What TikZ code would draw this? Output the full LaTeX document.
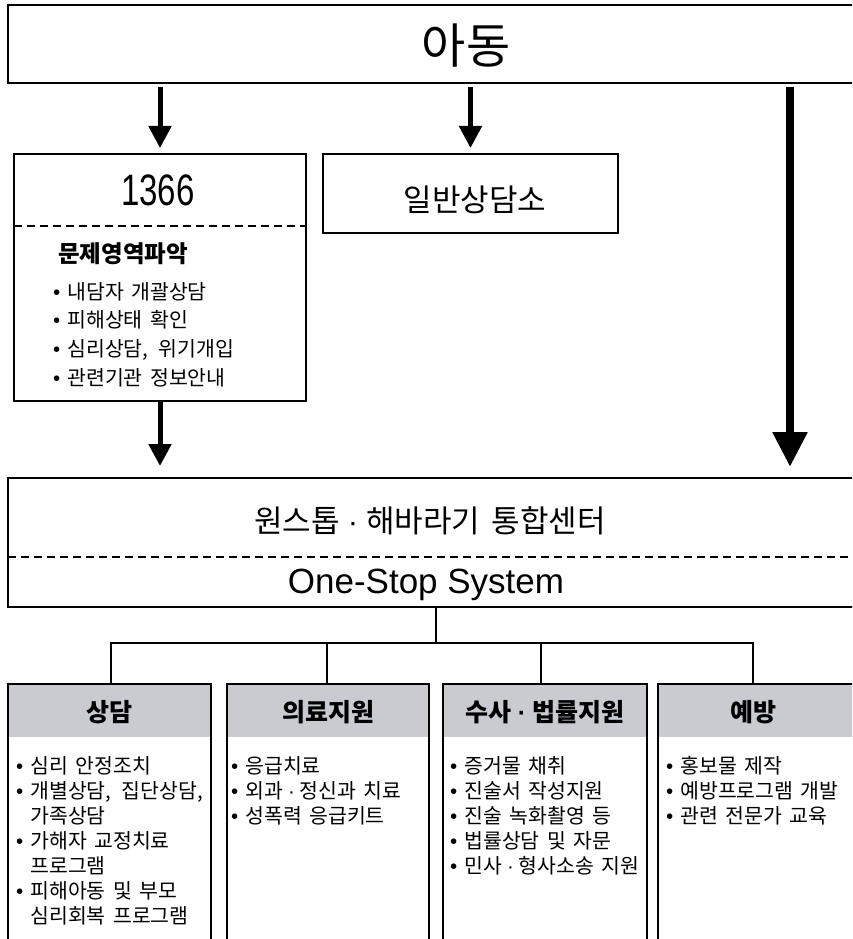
\documentclass[tikz,border=0pt]{standalone}
\usepackage{fontspec}
\setmainfont{Noto Sans CJK KR}[WordSpace=1.6]
\newfontfamily\lat{Liberation Sans}
\newfontfamily\latc[FakeStretch=0.75]{Liberation Sans}
\usetikzlibrary{arrows.meta}
\definecolor{hdr}{RGB}{201,203,209}
\newcommand{\bul}{{\lat •}\hspace{7pt}}
\newcommand{\md}[1]{\hspace{#1}{\lat ·}\hspace{#1}}
\newcommand{\fs}[2]{\fontsize{#1}{#2}\selectfont}
\begin{document}
\begin{tikzpicture}[x=1pt,y=-1pt,
  box/.style={draw, line width=2pt, inner sep=0pt, outer sep=0pt},
  arr/.style={line width=5pt, -{Triangle[length=22pt,width=22pt]}},
  bigarr/.style={line width=8.5pt, -{Triangle[length=35pt,width=33pt]}},
  dashline/.style={line width=1.6pt, dash pattern=on 8pt off 5pt},
  tree/.style={line width=2pt},
  hdrbox/.style={fill=hdr, inner sep=0pt, outer sep=0pt, anchor=north west, minimum height=53pt, font=\bfseries\fs{25}{25}, text depth=0pt},
  item/.style={anchor=base west, inner sep=0pt, font=\fs{20.5}{25}},
  ttl/.style={anchor=base, inner sep=0pt},
]
\clip (0,0) rectangle (852,939);
\fill[white] (0,0) rectangle (852,939);

% top box
\node[box, minimum width=912pt, minimum height=78pt, anchor=north west] (child) at (8,5) {};
\node[ttl, font=\fs{48}{48}] (childt) at (466,64) {아동};

% 1366 box
\node[box, minimum width=292pt, minimum height=247pt, anchor=north west] (b1366) at (14,154) {};
\node[ttl, font=\latc\fs{44}{44}] (t1366) at (158,205) {1366};
\coordinate (d1a) at (14,226);
\coordinate (d1b) at (306,226);
\draw[dashline] (d1a) -- (d1b);
\node[anchor=base west, inner sep=0pt, font=\bfseries\fs{23.5}{23.5}] (prob) at (58,262) {문제영역파악};
\node[item] (p1) at (53,299) {\bul 내담자 개괄상담};
\node[item] (p2) at (53,327.7) {\bul 피해상태 확인};
\node[item] (p3) at (53,356.4) {\bul 심리상담,\hspace{3pt} 위기개입};
\node[item] (p4) at (53,385) {\bul 관련기관 정보안내};

% general counseling box
\node[box, minimum width=295pt, minimum height=79pt, anchor=north west] (gen) at (323,154) {};
\node[ttl, font=\fs{31}{31}] (gent) at (475,211) {일반상담소};

% arrows
\coordinate (bx) at (790,0);
\draw[arr, shorten <=4pt, shorten >=6pt] (child.south -| b1366.north) -- (b1366.north);
\draw[arr, shorten <=4pt, shorten >=6pt] (child.south -| gen.north) -- (gen.north);
\node[box, minimum width=912pt, minimum height=129pt, anchor=north west] (big) at (8,478) {};
\draw[bigarr, shorten <=4pt, shorten >=11pt] (child.south -| bx) -- (big.north -| bx);
\draw[arr, shorten >=12pt] (b1366.south) -- (b1366.south |- big.north);

% big box contents
\node[ttl, font=\fs{31}{31}] (bigt1) at (430,532) {원스톱\md{8pt}해바라기 통합센터};
\coordinate (d2a) at (8,557);
\coordinate (d2b) at (860,557);
\draw[dashline] (d2a) -- (d2b);
\node[ttl, font=\lat\fs{35}{35}] (bigt2) at (426,593) {One-Stop System};

% category boxes
\node[hdrbox, minimum width=203pt] (h1) at (8,684) {상담};
\node[hdrbox, minimum width=202pt] (h2) at (227,684) {의료지원};
\node[hdrbox, minimum width=204pt] (h3) at (443,684) {수사\md{6pt}법률지원};
\node[hdrbox, minimum width=212pt] (h4) at (658,684) {\hspace*{-22pt}예방};
\node[box, minimum width=203pt, minimum height=270pt, anchor=north west] (c1) at (8,684) {};
\node[box, minimum width=202pt, minimum height=270pt, anchor=north west] (c2) at (227,684) {};
\node[box, minimum width=204pt, minimum height=270pt, anchor=north west] (c3) at (443,684) {};
\node[box, minimum width=212pt, minimum height=270pt, anchor=north west] (c4) at (658,684) {};

% tree
\coordinate (tj) at (436,643);
\coordinate (v1) at (111,684);
\coordinate (v2) at (327,684);
\coordinate (v3) at (541,684);
\coordinate (v4) at (753,684);
\draw[tree] (big.south -| tj) -- (tj);
\draw[tree, line cap=rect] (v1 |- tj) -- (v4 |- tj);
\draw[tree] (v1 |- tj) -- (v1);
\draw[tree] (v2 |- tj) -- (v2);
\draw[tree] (v3 |- tj) -- (v3);
\draw[tree] (v4 |- tj) -- (v4);

% items box 1
\node[item] (a1) at (16,773) {\bul 심리 안정조치};
\node[item] (a2) at (16,798) {\bul 개별상담,\hspace{3pt} 집단상담,};
\node[item] (a3) at (16,823) {\hphantom{\bul}가족상담};
\node[item] (a4) at (16,848) {\bul 가해자 교정치료};
\node[item] (a5) at (16,873) {\hphantom{\bul}프로그램};
\node[item] (a6) at (16,898) {\bul 피해아동 및 부모};
\node[item] (a7) at (16,923) {\hphantom{\bul}심리회복 프로그램};
% items box 2
\node[item] (b1) at (231,773) {\bul 응급치료};
\node[item] (b2) at (231,798) {\bul 외과\md{5pt}정신과 치료};
\node[item] (b3) at (231,823) {\bul 성폭력 응급키트};
% items box 3
\node[item] (e1) at (450,773) {\bul 증거물 채취};
\node[item] (e2) at (450,798) {\bul 진술서 작성지원};
\node[item] (e3) at (450,823) {\bul 진술 녹화촬영 등};
\node[item] (e4) at (450,848) {\bul 법률상담 및 자문};
\node[item] (e5) at (450,873) {\bul 민사\md{5pt}형사소송 지원};
% items box 4
\node[item] (f1) at (666,773) {\bul 홍보물 제작};
\node[item] (f2) at (666,798) {\bul 예방프로그램 개발};
\node[item] (f3) at (666,823) {\bul 관련 전문가 교육};
\end{tikzpicture}
\end{document}
